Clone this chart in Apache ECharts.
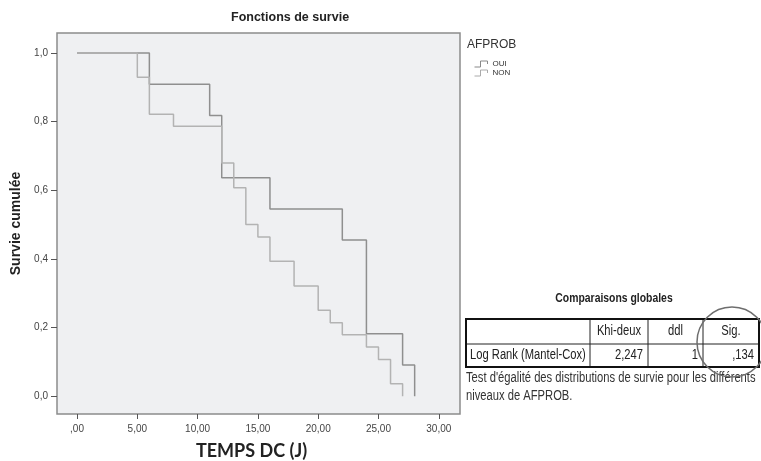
<!DOCTYPE html>
<html>
<head>
<meta charset="utf-8">
<title>Fonctions de survie</title>
<script src="https://cdn.jsdelivr.net/npm/echarts@6/dist/echarts.min.js"></script>
<style>
  html, body { margin: 0; padding: 0; background: #fff; }
  #chart { width: 761px; height: 461px; }
</style>
</head>
<body>
<div id="chart"></div>
<script>
// courbes de Kaplan-Meier : [temps, survie cumulée] aux événements
var ouiData = [[0, 1], [6, 0.909], [11, 0.818], [12, 0.636], [16, 0.545], [22, 0.455], [24, 0.182], [27, 0.091], [28, 0]];
var nonData = [[0, 1], [5, 0.929], [6, 0.821], [8, 0.786], [12, 0.679], [13, 0.607], [14, 0.5], [15, 0.464], [16, 0.393],
  [18, 0.321], [20, 0.25], [21, 0.214], [22, 0.179], [24, 0.143], [25, 0.107], [26, 0.036], [27, 0]];

var xTickValues = [0, 5, 10, 15, 20, 25, 30];
var xTickLabels = [',00', '5,00', '10,00', '15,00', '20,00', '25,00', '30,00'];
var yTickValues = [0, 0.2, 0.4, 0.6, 0.8, 1];
var yTickLabels = ['0,0', '0,2', '0,4', '0,6', '0,8', '1,0'];

// tableau "Comparaisons globales"
var tableHeader = ['', 'Khi-deux', 'ddl', 'Sig.'];
var tableRow = ['Log Rank (Mantel-Cox)', '2,247', '1', ',134'];
var tableNote = ["Test d'égalité des distributions de survie pour les différents", 'niveaux de AFPROB.'];

function pickLabel(values, labels, v) {
  for (var i = 0; i < values.length; i++) {
    if (Math.abs(values[i] - v) < 1e-6) return labels[i];
  }
  return '';
}

var arial = '"Liberation Sans", Arial, sans-serif';
var NARROW = 0.8; // pas d'Arial Narrow installée : on compresse Liberation Sans

// texte "étroit" façon SPSS
function narrowText(x, y, text, font, align, fill) {
  return {
    type: 'text', x: x, y: y, scaleX: NARROW, silent: true,
    style: { text: text, font: font, fill: fill || '#222', textAlign: align, textVerticalAlign: 'middle' }
  };
}

// géométrie du tableau
var colX = [466, 590, 648, 703, 759];
var rowY = [319, 344, 367];

var tableGraphics = [];
tableGraphics.push(narrowText(614, 298, 'Comparaisons globales', 'bold 13px ' + arial, 'center'));
// lignes internes
for (var c = 1; c < colX.length - 1; c++) {
  tableGraphics.push({
    type: 'line', silent: true,
    shape: { x1: colX[c], y1: rowY[0], x2: colX[c], y2: rowY[2] },
    style: { stroke: '#222', lineWidth: 1 }
  });
}
tableGraphics.push({
  type: 'line', silent: true,
  shape: { x1: colX[0], y1: rowY[1], x2: colX[4], y2: rowY[1] },
  style: { stroke: '#222', lineWidth: 1 }
});
// cadre
tableGraphics.push({
  type: 'rect', silent: true,
  shape: { x: colX[0], y: rowY[0], width: colX[4] - colX[0], height: rowY[2] - rowY[0] },
  style: { fill: 'none', stroke: '#111', lineWidth: 2 }
});
// en-têtes (centrés)
for (var h = 1; h < tableHeader.length; h++) {
  tableGraphics.push(narrowText((colX[h] + colX[h + 1]) / 2, (rowY[0] + rowY[1]) / 2, tableHeader[h], '14px ' + arial, 'center'));
}
// ligne de données
tableGraphics.push(narrowText(colX[0] + 4, (rowY[1] + rowY[2]) / 2, tableRow[0], '14px ' + arial, 'left'));
for (var d = 1; d < tableRow.length; d++) {
  tableGraphics.push(narrowText(colX[d + 1] - 5, (rowY[1] + rowY[2]) / 2, tableRow[d], '14px ' + arial, 'right'));
}
tableNote.forEach(function (t, i) {
  tableGraphics.push(narrowText(colX[0], 378 + i * 18, t, '14px ' + arial, 'left', '#333'));
});
// cercle autour de Sig.
tableGraphics.push({
  type: 'circle', silent: true,
  shape: { cx: 732, cy: 342, r: 35 },
  style: { fill: 'none', stroke: '#6e6e6e', lineWidth: 1.5 }
});

var chart = echarts.init(document.getElementById('chart'), null, { renderer: 'canvas' });

chart.setOption({
  backgroundColor: '#fff',
  animation: false,
  title: {
    text: 'Fonctions de survie',
    left: 231, top: 11,
    padding: 0,
    textStyle: { fontFamily: arial, fontSize: 12.5, fontWeight: 'bold', color: '#222' }
  },
  legend: {
    orient: 'vertical',
    left: 474, top: 60,
    padding: 0,
    itemWidth: 13, itemHeight: 6, itemGap: 1,
    icon: 'path://M0 6 H6 V0 H13 V3',
    textStyle: { fontFamily: arial, fontSize: 8, lineHeight: 7, color: '#333' },
    data: [
      { name: 'OUI', itemStyle: { color: 'transparent', borderColor: '#888', borderWidth: 1 } },
      { name: 'NON', itemStyle: { color: 'transparent', borderColor: '#aaa', borderWidth: 1 } }
    ]
  },
  graphic: [{
    type: 'text', left: 467, top: 39,
    style: { text: 'AFPROB', font: '12px ' + arial, fill: '#333' }
  }].concat(tableGraphics),
  grid: {
    left: 57, top: 33, right: 301, bottom: 47,
    outerBoundsMode: 'none',
    show: true,
    backgroundColor: '#eff0f2',
    borderColor: '#8c8c8c',
    borderWidth: 1.5
  },
  xAxis: {
    type: 'value',
    min: -1.66, max: 31.76,
    name: 'TEMPS DC (J)',
    nameLocation: 'middle',
    nameGap: 28,
    nameTextStyle: { fontFamily: 'Lato, "Open Sans", sans-serif', fontSize: 18, fontWeight: 'bold', color: '#222', padding: [0, 14, 0, 0] },
    axisLine: { show: false, onZero: false },
    axisTick: { show: true, length: 5, customValues: xTickValues, lineStyle: { color: '#555' } },
    axisLabel: {
      customValues: xTickValues, margin: 10,
      fontFamily: arial, fontSize: 10, color: '#444',
      formatter: function (v) { return pickLabel(xTickValues, xTickLabels, v); }
    },
    splitLine: { show: false }
  },
  yAxis: {
    type: 'value',
    min: -0.052, max: 1.058,
    name: 'Survie cumulée',
    nameLocation: 'middle',
    nameGap: 30,
    nameTextStyle: { fontFamily: arial, fontSize: 14, fontWeight: 'bold', color: '#222' },
    axisLine: { show: false, onZero: false },
    axisTick: { show: true, length: 6, customValues: yTickValues, lineStyle: { color: '#555' } },
    axisLabel: {
      customValues: yTickValues, margin: 9,
      fontFamily: arial, fontSize: 10, color: '#444',
      formatter: function (v) { return pickLabel(yTickValues, yTickLabels, v); }
    },
    splitLine: { show: false }
  },
  series: [{
    name: 'OUI',
    type: 'line',
    step: 'end',
    symbol: 'none',
    lineStyle: { color: '#8f8f8f', width: 1.5 },
    itemStyle: { color: '#8f8f8f' },
    data: ouiData
  }, {
    name: 'NON',
    type: 'line',
    step: 'end',
    symbol: 'none',
    lineStyle: { color: '#b3b3b3', width: 1.5 },
    itemStyle: { color: '#b3b3b3' },
    data: nonData
  }]
});
</script>
</body>
</html>
